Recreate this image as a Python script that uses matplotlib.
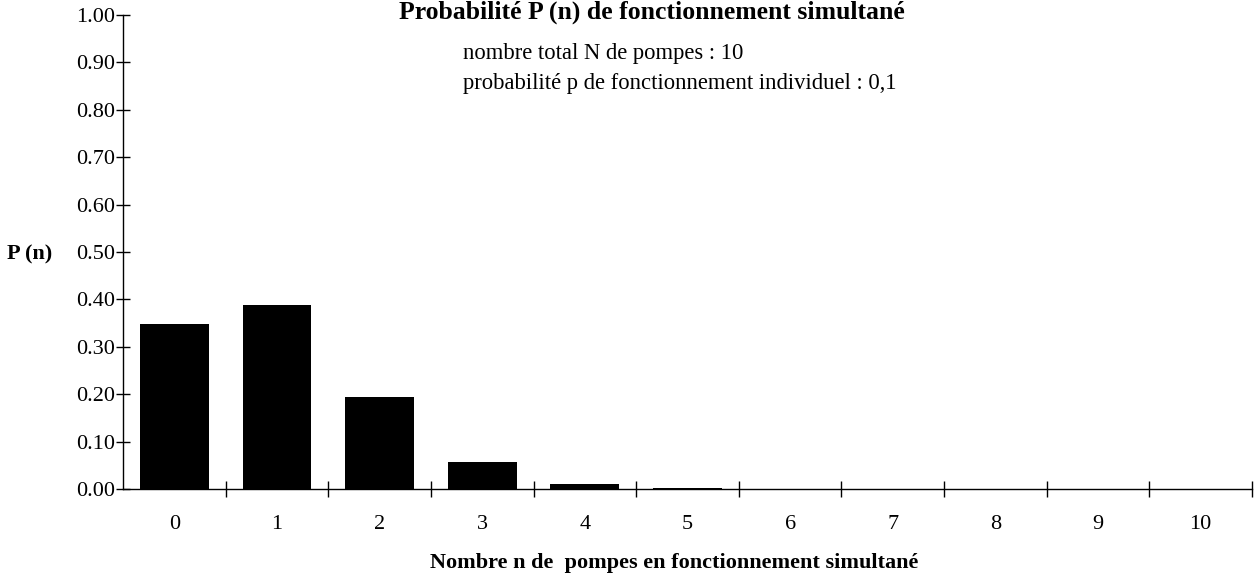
import matplotlib
matplotlib.use("Agg")
import matplotlib.pyplot as plt
from matplotlib.ticker import FixedLocator, NullFormatter

categories = ["0", "1", "2", "3", "4", "5", "6", "7", "8", "9", "10"]
values = [0.3487, 0.3874, 0.1937, 0.0574, 0.0112, 0.0015, 0.0001, 0.0, 0.0, 0.0, 0.0]
yticks = [0.0, 0.1, 0.2, 0.3, 0.4, 0.5, 0.6, 0.7, 0.8, 0.9, 1.0]

plt.rcParams['font.family'] = ['Liberation Serif', 'DejaVu Serif']

W, H = 1257, 579
fig = plt.figure(figsize=(W / 100, H / 100), dpi=100)
ax = fig.add_axes([123 / W, 1 - 489 / H, (1252 - 123) / W, (489 - 15) / H])

x = list(range(len(categories)))
ax.bar(x, values, width=0.67, color='black', linewidth=0)

ax.set_xlim(-0.5, len(categories) - 0.5)
ax.set_ylim(0, 1.0)

ax.set_yticks(yticks)
ax.set_yticklabels([f"{v:.2f}" for v in yticks], fontsize=16)
ax.set_xticks(x)
ax.set_xticklabels(categories, fontsize=16)
ax.tick_params(axis='x', which='major', length=0, pad=19)
ax.xaxis.set_minor_locator(FixedLocator([i + 0.5 for i in x]))
ax.xaxis.set_minor_formatter(NullFormatter())
ax.tick_params(axis='x', which='minor', direction='inout', length=12, width=1)
ax.tick_params(axis='y', direction='inout', length=10, width=1, pad=1)

for s in ['top', 'right']:
    ax.spines[s].set_visible(False)
for s in ['left', 'bottom']:
    ax.spines[s].set_linewidth(1)

fig.text(652 / W, 1 - 1 / H, "Probabilité P (n) de fonctionnement simultané",
         ha='center', va='top', fontsize=18.5, fontweight='bold')
fig.text(463 / W, 1 - 54 / H, "nombre total N de pompes : 10",
         ha='left', va='center', fontsize=16.3)
fig.text(463 / W, 1 - 83 / H, "probabilité p de fonctionnement individuel : 0,1",
         ha='left', va='center', fontsize=16.3)
fig.text(30 / W, 1 - 254 / H, "P (n)", ha='center', va='center',
         fontsize=16, fontweight='bold')
fig.text(674 / W, 1 - 563 / H, "Nombre n de  pompes en fonctionnement simultané",
         ha='center', va='center', fontsize=16, fontweight='bold')

fig.savefig("out.png", dpi=100)
